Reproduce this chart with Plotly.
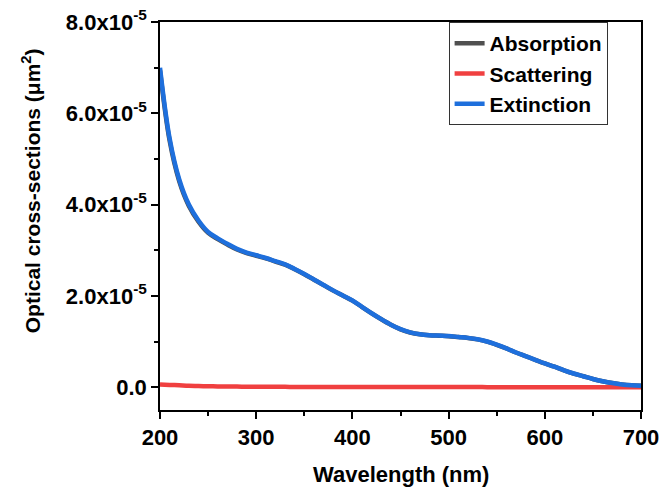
import plotly.graph_objects as go

wavelength = [200, 210, 220, 230, 240, 250, 260, 270, 280, 290, 300, 310, 320, 330, 340,
              350, 360, 370, 380, 390, 400, 410, 420, 430, 440, 450, 460, 470, 480, 490,
              500, 510, 520, 530, 540, 550, 560, 570, 580, 590, 600, 610, 620, 630, 640,
              650, 660, 670, 680, 690, 700]

# values in units of 1e-5 um^2
extinction = [7.00, 5.45, 4.55, 4.00, 3.65, 3.40, 3.26, 3.14, 3.03, 2.95, 2.89, 2.83, 2.76, 2.69, 2.59,
              2.48, 2.36, 2.24, 2.12, 2.01, 1.90, 1.76, 1.62, 1.49, 1.37, 1.27, 1.20, 1.16, 1.14, 1.13,
              1.12, 1.10, 1.08, 1.05, 1.00, 0.93, 0.85, 0.76, 0.68, 0.60, 0.52, 0.45, 0.37, 0.30, 0.24,
              0.18, 0.13, 0.09, 0.06, 0.04, 0.03]
scattering = [0.06, 0.05, 0.04, 0.03, 0.025, 0.02, 0.017, 0.015, 0.013, 0.011, 0.010, 0.009, 0.008, 0.007, 0.006,
              0.006, 0.005, 0.005, 0.005, 0.004, 0.004, 0.004, 0.003, 0.003, 0.003, 0.003, 0.002, 0.002, 0.002, 0.002,
              0.002, 0.002, 0.002, 0.002, 0.001, 0.001, 0.001, 0.001, 0.001, 0.001, 0.001, 0.001, 0.001, 0.001, 0.001,
              0.0, 0.0, 0.0, 0.0, 0.0, 0.0]
absorption = [6.94, 5.40, 4.51, 3.97, 3.625, 3.38, 3.243, 3.125, 3.017, 2.939, 2.88, 2.821, 2.752, 2.683, 2.584,
              2.474, 2.355, 2.235, 2.115, 2.006, 1.896, 1.756, 1.617, 1.487, 1.367, 1.267, 1.198, 1.158, 1.138, 1.128,
              1.118, 1.098, 1.078, 1.048, 0.999, 0.929, 0.849, 0.759, 0.679, 0.599, 0.519, 0.449, 0.369, 0.299, 0.239,
              0.18, 0.13, 0.09, 0.06, 0.04, 0.03]

y_tickvals = [0, 2, 4, 6, 8]
y_ticktext = ["0.0", "2.0x10<sup>-5</sup>", "4.0x10<sup>-5</sup>", "6.0x10<sup>-5</sup>", "8.0x10<sup>-5</sup>"]
x_tickvals = [200, 300, 400, 500, 600, 700]

scale = 1e-5
font = "Liberation Sans, Arial, sans-serif"

fig = go.Figure()
fig.add_trace(go.Scatter(x=wavelength, y=[v * scale for v in absorption], name="Absorption",
                         mode="lines", line=dict(color="#505050", width=4.5, shape="spline")))
fig.add_trace(go.Scatter(x=wavelength, y=[v * scale for v in scattering], name="Scattering",
                         mode="lines", line=dict(color="#f04040", width=4.5, shape="spline")))
fig.add_trace(go.Scatter(x=wavelength, y=[v * scale for v in extinction], name="Extinction",
                         mode="lines", line=dict(color="#1e6fdc", width=4.5, shape="spline")))

fig.update_layout(
    width=660, height=489,
    margin=dict(l=160, r=19, t=22, b=79),
    paper_bgcolor="white", plot_bgcolor="white",
    font=dict(family=font, size=22, color="black"),
    showlegend=True,
    legend=dict(x=0.600, y=1.0, xanchor="left", yanchor="top",
                bordercolor="#333333", borderwidth=1, bgcolor="white",
                font=dict(family=font, size=21, color="black", weight="bold"),
                tracegroupgap=0, itemwidth=30),
    xaxis=dict(
        range=[200, 700], tickvals=x_tickvals, ticks="outside", ticklen=7, tickwidth=1.5,
        tickcolor="black", showline=True, linecolor="black", linewidth=1.5, mirror=True,
        showgrid=False, zeroline=False, automargin=False,
        tickfont=dict(family=font, size=22, weight="bold"),
        minor=dict(tickvals=[250, 350, 450, 550, 650], ticks="outside", ticklen=4, tickwidth=1.5, tickcolor="black"),
    ),
    yaxis=dict(
        range=[-0.5e-5, 8.0e-5], tickvals=[v * scale for v in y_tickvals], ticktext=y_ticktext,
        ticks="outside", ticklen=7, tickwidth=1.5, tickcolor="black",
        showline=True, linecolor="black", linewidth=1.5, mirror=True,
        showgrid=False, zeroline=False, automargin=False,
        tickfont=dict(family=font, size=22, weight="bold"),
        minor=dict(tickvals=[1e-5, 3e-5, 5e-5, 7e-5], ticks="outside", ticklen=4, tickwidth=1.5, tickcolor="black"),
    ),
    annotations=[
        dict(text="Wavelength (nm)", xref="paper", yref="paper", x=0.5, y=-0.165,
             xanchor="center", yanchor="middle", showarrow=False,
             font=dict(family=font, size=22, weight="bold", color="black")),
        dict(text="Optical cross-sections (\u03bcm<sup>2</sup>)", xref="paper", yref="paper",
             x=-0.268, y=0.564, xanchor="center", yanchor="middle", textangle=-90, showarrow=False,
             font=dict(family=font, size=21, weight="bold", color="black")),
    ],
)

fig.write_html("out.html")
